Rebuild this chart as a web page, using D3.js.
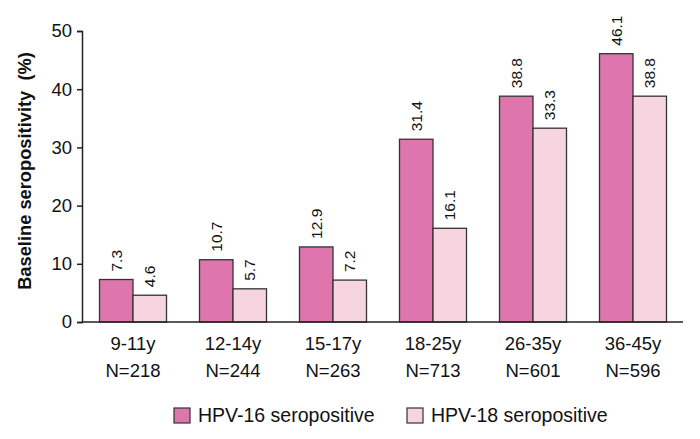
<!DOCTYPE html>
<html>
<head>
<meta charset="utf-8">
<script src="https://cdn.jsdelivr.net/npm/d3@7"></script>
<style>
    body { margin: 0; background: #fff; }
    svg { display: block; font-family: "Liberation Sans", Arial, sans-serif; }
</style>
</head>
<body>
<svg id="Target" width="700" height="439"></svg>
<script>
const ageGroups = ["9-11y", "12-14y", "15-17y", "18-25y", "26-35y", "36-45y"];
const sampleSizes = ["N=218", "N=244", "N=263", "N=713", "N=601", "N=596"];
const hpv16 = [7.3, 10.7, 12.9, 31.4, 38.8, 46.1];
const hpv18 = [4.6, 5.7, 7.2, 16.1, 33.3, 38.8];
const seriesNames = ["HPV-16 seropositive", "HPV-18 seropositive"];
const yTicks = [0, 10, 20, 30, 40, 50];

const colors = ["#de76ad", "#f6d5e1"];
const strokeColor = "#333";

const svg = d3.select("#Target");

// scales
const x = d3.scaleBand()
    .domain(ageGroups)
    .range([83, 683])
    .paddingInner(0)
    .paddingOuter(0);

const y = d3.scaleLinear()
    .domain([0, 50])
    .range([322, 31]);

const barWidth = 33.5;

// y axis
const yAxis = svg.append("g")
    .attr("transform", "translate(82,0)")
    .call(d3.axisLeft(y).tickValues(yTicks).tickSize(5).tickPadding(5));
yAxis.select(".domain").attr("stroke", "#222").attr("stroke-width", 1.5);
yAxis.selectAll(".tick line").attr("stroke", "#222").attr("stroke-width", 1.5);
yAxis.selectAll(".tick text")
    .attr("font-size", 18.5)
    .attr("fill", "#111")
    .style("font-family", "Liberation Sans, Arial, sans-serif");

svg.append("text")
    .attr("transform", "translate(31,171) rotate(-90)")
    .attr("text-anchor", "middle")
    .attr("font-size", 18.3)
    .attr("font-weight", "bold")
    .attr("fill", "#111")
    .attr("xml:space", "preserve")
    .text("Baseline seropositivity  (%)");

// bars
const groups = svg.selectAll("g.group")
    .data(ageGroups)
    .enter()
    .append("g")
    .attr("class", "group");

[hpv16, hpv18].forEach((series, si) => {
    groups.append("rect")
        .attr("x", (d, i) => x(d) + x.bandwidth() / 2 - barWidth + si * barWidth)
        .attr("y", (d, i) => y(series[i]))
        .attr("width", barWidth)
        .attr("height", (d, i) => y(0) - y(series[i]))
        .attr("fill", colors[si])
        .attr("stroke", strokeColor)
        .attr("stroke-width", 1.3);

    // value labels, rotated
    groups.append("text")
        .attr("transform", (d, i) => {
            const cx = x(d) + x.bandwidth() / 2 - barWidth / 2 + si * barWidth;
            return `translate(${cx + 5.5},${y(series[i]) - 8}) rotate(-90)`;
        })
        .attr("font-size", 15.5)
        .attr("fill", "#111")
        .text((d, i) => series[i].toFixed(1));
});

// x axis line
svg.append("line")
    .attr("x1", 82)
    .attr("x2", 683)
    .attr("y1", y(0))
    .attr("y2", y(0))
    .attr("stroke", "#222")
    .attr("stroke-width", 1.5);

// category labels
groups.append("text")
    .attr("x", d => x(d) + x.bandwidth() / 2)
    .attr("y", 350)
    .attr("text-anchor", "middle")
    .attr("font-size", 18.5)
    .attr("fill", "#111")
    .text(d => d);

groups.append("text")
    .attr("x", d => x(d) + x.bandwidth() / 2)
    .attr("y", 377)
    .attr("text-anchor", "middle")
    .attr("font-size", 18.5)
    .attr("fill", "#111")
    .text((d, i) => sampleSizes[i]);

// legend
const legendX = [174, 407];
const legend = svg.selectAll("g.legend")
    .data(seriesNames)
    .enter()
    .append("g")
    .attr("class", "legend")
    .attr("transform", (d, i) => `translate(${legendX[i]},408)`);

legend.append("rect")
    .attr("width", 16)
    .attr("height", 15)
    .attr("fill", (d, i) => colors[i])
    .attr("stroke", strokeColor)
    .attr("stroke-width", 1.2);

legend.append("text")
    .attr("x", 24)
    .attr("y", 14)
    .attr("font-size", 19.5)
    .attr("fill", "#111")
    .text(d => d);
</script>
</body>
</html>
